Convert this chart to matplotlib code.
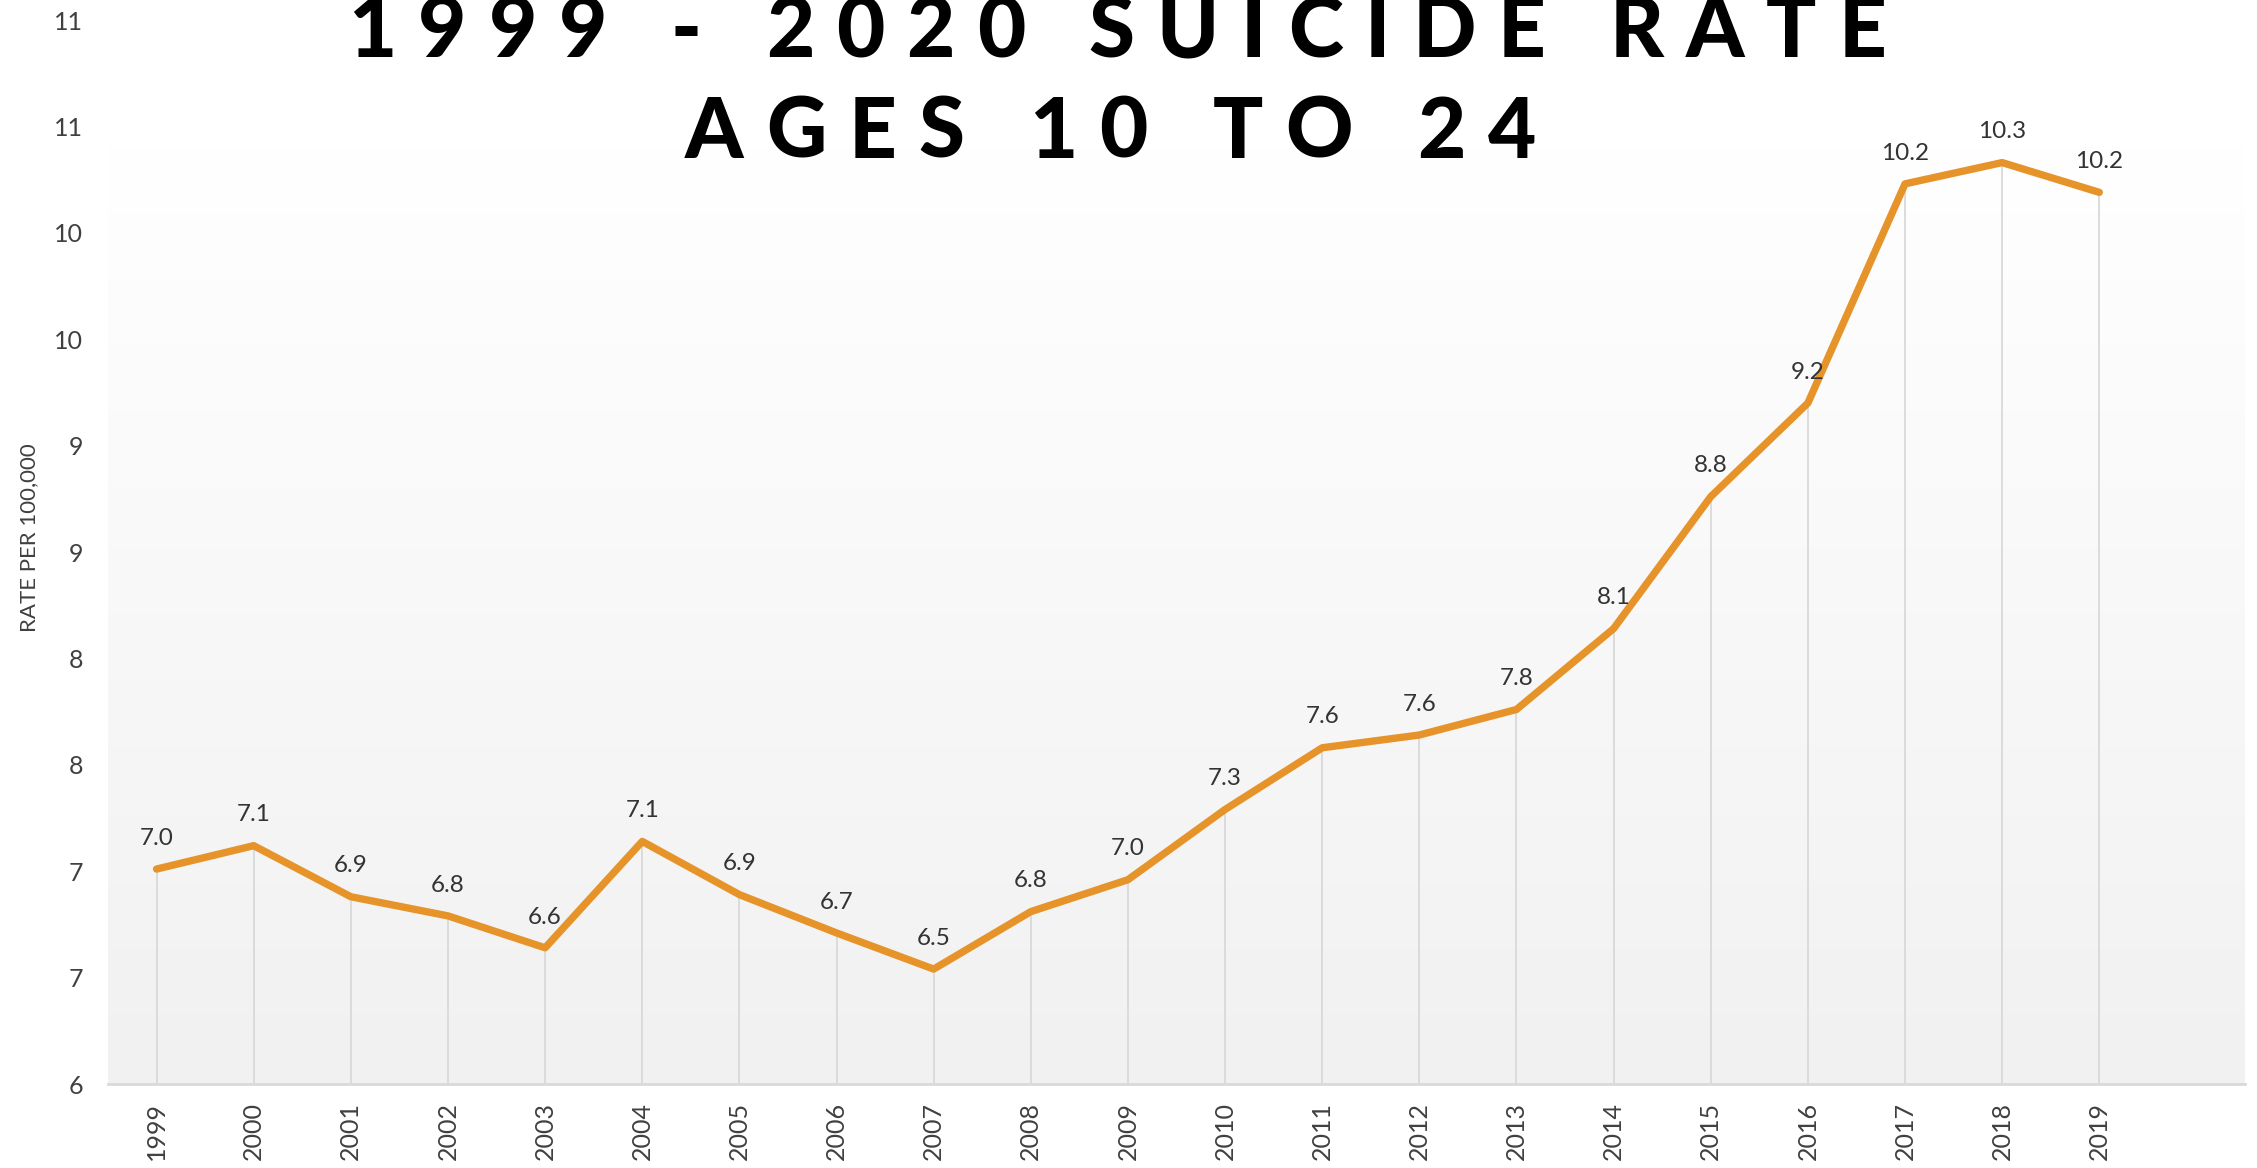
import numpy as np
import matplotlib
matplotlib.use('Agg')
import matplotlib.pyplot as plt
from matplotlib.colors import LinearSegmentedColormap
from matplotlib.font_manager import FontProperties

# datos
years = list(range(1999, 2020))
rates = [7.01, 7.12, 6.88, 6.79, 6.64, 7.14, 6.89, 6.71, 6.54, 6.81, 6.96,
         7.29, 7.58, 7.64, 7.76, 8.14, 8.76, 9.20, 10.23, 10.33, 10.19]
y_ticks = [6.0, 6.5, 7.0, 7.5, 8.0, 8.5, 9.0, 9.5, 10.0, 10.5, 11.0]
title_lines = ['1999 - 2020 SUICIDE RATE', 'AGES 10 TO 24']
y_label = 'RATE PER 100,000'

ORANGE = '#E6932A'
GRID = '#d9d9d9'
TXT = '#404040'
FONT = 'Lato'

W, H = 2257, 1168
fig = plt.figure(figsize=(W / 100, H / 100), dpi=100)
ax = fig.add_axes([108 / W, 1 - 1084 / H, (2245 - 108) / W, (1084 - 20) / H])

x0, x1 = 1998.5, 2020.5
ax.set_xlim(x0, x1)
ax.set_ylim(6, 11)

# fondo degradado
cmap = LinearSegmentedColormap.from_list('bg', ['#f1f1f1', '#ffffff'])
grad = np.linspace(0, 1, 256).reshape(-1, 1)
ax.imshow(grad, cmap=cmap, aspect='auto', origin='lower',
          extent=(x0, x1, 6, 10.42), zorder=0)

# lineas verticales
ax.vlines(years, 6, rates, color=GRID, lw=1.3, zorder=1)

ax.plot(years, rates, color=ORANGE, lw=5.3, solid_capstyle='round',
        solid_joinstyle='round', zorder=3)

for x, y in zip(years, rates):
    ax.annotate(f'{y:.1f}', (x, y), xytext=(0, 17.5), textcoords='offset points',
                ha='center', va='baseline', fontsize=17.5, color='#333333',
                family=FONT)

# ejes
for s in ['top', 'right', 'left']:
    ax.spines[s].set_visible(False)
ax.spines['bottom'].set_color(GRID)
ax.spines['bottom'].set_linewidth(2)

ax.set_xticks(years)
ax.set_xticklabels([str(y) for y in years], rotation=90, fontsize=18,
                   color=TXT, family=FONT)
ax.set_yticks(y_ticks)
ax.set_yticklabels([str(int(np.floor(v + 0.5))) for v in y_ticks], fontsize=18,
                   color=TXT, family=FONT)
ax.tick_params(axis='both', length=0)
ax.tick_params(axis='x', pad=13)
ax.tick_params(axis='y', pad=18)

fig.text(29 / W, 1 - 538 / H, y_label, rotation=90, ha='center', va='center',
         fontsize=16, color=TXT, family=FONT)

# titulo con espaciado entre letras
renderer = fig.canvas.get_renderer()
fp = FontProperties(family=FONT, weight='black', size=60)
targets = [(348, 1886, 57), (685, 1536, 158)]
for line, (xl, xr, yb) in zip(title_lines, targets):
    widths = [renderer.get_text_width_height_descent(c, fp, ismath=False)[0]
              for c in line]
    gap = ((xr - xl) - sum(widths)) / (len(line) - 1)
    xpos = xl
    for c, w in zip(line, widths):
        if c != ' ':
            fig.text(xpos / W, 1 - yb / H, c, fontproperties=fp, ha='left',
                     va='baseline', color='black')
        xpos += w + gap

fig.savefig('out.png', dpi=100)
